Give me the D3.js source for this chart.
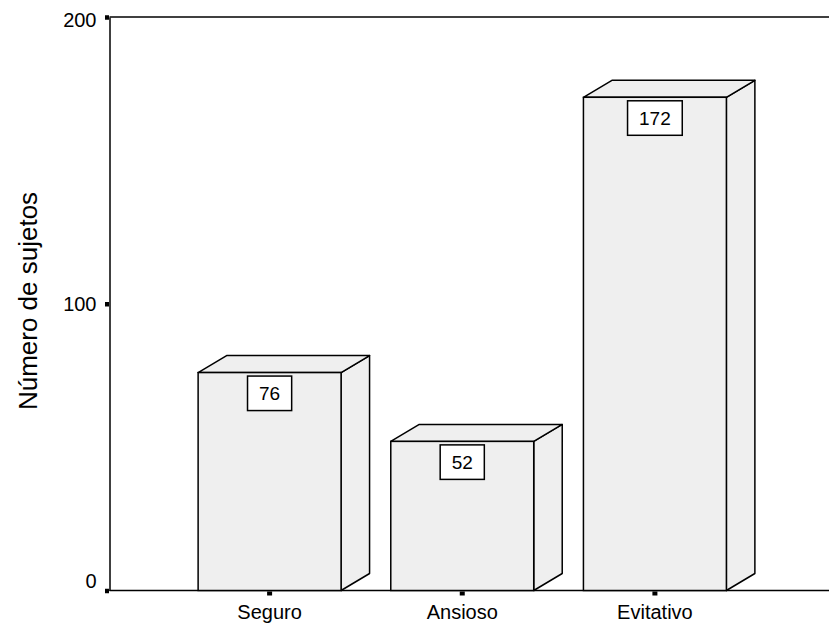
<!DOCTYPE html>
<html>
<head>
<meta charset="utf-8">
<script src="https://cdn.jsdelivr.net/npm/d3@7"></script>
<style>
  html, body { margin: 0; padding: 0; background: #ffffff; }
  svg { display: block; }
  text { font-family: "Liberation Sans", Arial, sans-serif; fill: #000; }
</style>
</head>
<body>
<svg id="chart" width="829" height="628"></svg>
<script>
// Attachment style counts
const categories = ["Seguro", "Ansioso", "Evitativo"];
const counts = [76, 52, 172];
const yTicks = [0, 100, 200];
const yTitle = "Número de sujetos";

const W = 829, H = 628;
const plotLeft = 109.5, plotTop = 17, plotBottom = 590.5;
const depthX = 28.5, depthY = 17;
const faceFill = "#efefef";

const svg = d3.select("#chart");

const x = d3.scaleBand()
  .domain(categories)
  .range([plotLeft, 815])
  .paddingInner(0.258)
  .paddingOuter(0.46);

const y = d3.scaleLinear().domain([0, 200]).range([plotBottom, plotTop]);

// Frame lines (plot area continues past the right edge)
const frame = svg.append("g").attr("stroke", "#000").attr("stroke-width", 1.5).attr("fill", "none");
frame.append("line").attr("x1", plotLeft).attr("x2", W + 10).attr("y1", plotTop).attr("y2", plotTop);
frame.append("line").attr("x1", plotLeft).attr("x2", W + 10).attr("y1", plotBottom).attr("y2", plotBottom);

// 3D bars
const bars = svg.append("g").selectAll("g.bar")
  .data(categories.map((c, i) => ({ cat: c, v: counts[i] })))
  .join("g").attr("class", "bar");

bars.each(function(d) {
  const g = d3.select(this);
  const x0 = x(d.cat), x1 = x0 + x.bandwidth();
  const yt = y(d.v), yb = y(0);
  const line = d3.line();
  // side face
  g.append("path")
    .attr("d", line([[x1, yb], [x1 + depthX, yb - depthY], [x1 + depthX, yt - depthY], [x1, yt]]) + "Z")
    .attr("fill", faceFill).attr("stroke", "#000").attr("stroke-width", 1.5).attr("stroke-linejoin", "round");
  // top face
  g.append("path")
    .attr("d", line([[x0, yt], [x0 + depthX, yt - depthY], [x1 + depthX, yt - depthY], [x1, yt]]) + "Z")
    .attr("fill", faceFill).attr("stroke", "#000").attr("stroke-width", 1.5).attr("stroke-linejoin", "round");
  // front face
  g.append("rect")
    .attr("x", x0).attr("y", yt).attr("width", x1 - x0).attr("height", yb - yt)
    .attr("fill", faceFill).attr("stroke", "#000").attr("stroke-width", 1.5);

  // value label in a box
  const cx = x0 + x.bandwidth() / 2;
  const boxTop = yt + 3.5, boxH = 34.5;
  const rect = g.append("rect").attr("fill", "#fff").attr("stroke", "#000").attr("stroke-width", 1.5);
  const t = g.append("text")
    .attr("x", cx).attr("y", boxTop + boxH / 2)
    .attr("dy", "0.36em")
    .attr("text-anchor", "middle")
    .attr("font-size", 19)
    .text(d.v);
  const tw = t.node().getComputedTextLength();
  const bw = tw + 23;
  rect.attr("x", cx - bw / 2).attr("y", boxTop).attr("width", bw).attr("height", boxH);
});

// Y axis
const yAxis = svg.append("g")
  .attr("transform", `translate(${plotLeft},0)`)
  .call(d3.axisLeft(y).tickValues(yTicks).tickSize(4).tickSizeOuter(0).tickPadding(9));
yAxis.select(".domain").attr("stroke", "#000").attr("stroke-width", 1.5);
yAxis.selectAll(".tick line").attr("stroke", "#000").attr("stroke-width", 4.5).attr("transform", "translate(-0.5,0)");
yAxis.selectAll(".tick text")
  .attr("font-size", 20)
  .attr("font-family", "Liberation Sans, Arial, sans-serif")
  .attr("fill", "#000")
  .attr("dy", d => d === 0 ? "-0.16em" : d === 200 ? "0.48em" : "0.32em");

// X axis
const xAxis = svg.append("g")
  .attr("transform", `translate(0,${plotBottom})`)
  .call(d3.axisBottom(x).tickSize(0).tickSizeOuter(0).tickPadding(0));
xAxis.select(".domain").remove();
xAxis.selectAll(".tick").append("rect")
  .attr("x", -2.5).attr("y", 1).attr("width", 5).attr("height", 4).attr("fill", "#000");
xAxis.selectAll(".tick text")
  .attr("font-size", 20)
  .attr("font-family", "Liberation Sans, Arial, sans-serif")
  .attr("fill", "#000")
  .attr("y", 28.5)
  .attr("dy", 0);

// Y title
svg.append("text")
  .attr("transform", "translate(37,301) rotate(-90)")
  .attr("text-anchor", "middle")
  .attr("font-size", 26)
  .text(yTitle);
</script>
</body>
</html>
